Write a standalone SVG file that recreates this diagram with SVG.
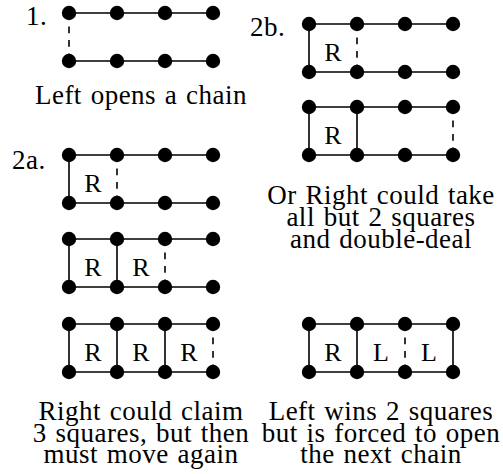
<svg xmlns="http://www.w3.org/2000/svg" xmlns:xlink="http://www.w3.org/1999/xlink" width="503" height="474" viewBox="0 0 503 474">
<style>
.t{font-family:'Liberation Serif','Times New Roman',serif;font-size:27px;fill:#000;letter-spacing:0.5px;word-spacing:1.5px}
.b{font-family:'Liberation Serif','Times New Roman',serif;font-size:26px;fill:#000}
.c{text-anchor:middle}
.e{stroke:#000;stroke-width:1.6;fill:none}
.d{stroke:#000;stroke-width:1.6;fill:none;stroke-dasharray:6.75 6.75}
</style>
<defs><circle id="dot" r="7.2" fill="#000"/></defs>
<rect width="503" height="474" fill="#fff"/>
<g id="connectors">
<path class="e" d="M69 13H213M69 61H213"/>
<path class="d" d="M69 13V61"/>
<path class="e" d="M309 24H453M309 72H453M309 24V72"/>
<path class="d" d="M357 24V72"/>
<path class="e" d="M309 107H453M309 155H453M309 107V155M357 107V155"/>
<path class="d" d="M453 107V155"/>
<path class="e" d="M69 155H213M69 203H213M69 155V203"/>
<path class="d" d="M117 155V203"/>
<path class="e" d="M69 239H213M69 287H213M69 239V287M117 239V287"/>
<path class="d" d="M165 239V287"/>
<path class="e" d="M69 324H213M69 372H213M69 324V372M117 324V372M165 324V372"/>
<path class="d" d="M213 324V372"/>
<path class="e" d="M309 324H453M309 372H453M309 324V372M357 324V372M453 324V372"/>
<path class="d" d="M405 324V372"/>
</g>
<g id="chain1">
<g id="n1-t1"><use xlink:href="#dot" x="69" y="13"/></g>
<g id="n1-t2"><use xlink:href="#dot" x="117" y="13"/></g>
<g id="n1-t3"><use xlink:href="#dot" x="165" y="13"/></g>
<g id="n1-t4"><use xlink:href="#dot" x="213" y="13"/></g>
<g id="n1-b1"><use xlink:href="#dot" x="69" y="61"/></g>
<g id="n1-b2"><use xlink:href="#dot" x="117" y="61"/></g>
<g id="n1-b3"><use xlink:href="#dot" x="165" y="61"/></g>
<g id="n1-b4"><use xlink:href="#dot" x="213" y="61"/></g>
</g>
<g id="chain2b1">
<g id="n2b1-t1"><use xlink:href="#dot" x="309" y="24"/></g>
<g id="n2b1-t2"><use xlink:href="#dot" x="357" y="24"/></g>
<g id="n2b1-t3"><use xlink:href="#dot" x="405" y="24"/></g>
<g id="n2b1-t4"><use xlink:href="#dot" x="453" y="24"/></g>
<g id="n2b1-b1"><use xlink:href="#dot" x="309" y="72"/></g>
<g id="n2b1-b2"><use xlink:href="#dot" x="357" y="72"/></g>
<g id="n2b1-b3"><use xlink:href="#dot" x="405" y="72"/></g>
<g id="n2b1-b4"><use xlink:href="#dot" x="453" y="72"/></g>
</g>
<g id="chain2b2">
<g id="n2b2-t1"><use xlink:href="#dot" x="309" y="107"/></g>
<g id="n2b2-t2"><use xlink:href="#dot" x="357" y="107"/></g>
<g id="n2b2-t3"><use xlink:href="#dot" x="405" y="107"/></g>
<g id="n2b2-t4"><use xlink:href="#dot" x="453" y="107"/></g>
<g id="n2b2-b1"><use xlink:href="#dot" x="309" y="155"/></g>
<g id="n2b2-b2"><use xlink:href="#dot" x="357" y="155"/></g>
<g id="n2b2-b3"><use xlink:href="#dot" x="405" y="155"/></g>
<g id="n2b2-b4"><use xlink:href="#dot" x="453" y="155"/></g>
</g>
<g id="chain2a1">
<g id="n2a1-t1"><use xlink:href="#dot" x="69" y="155"/></g>
<g id="n2a1-t2"><use xlink:href="#dot" x="117" y="155"/></g>
<g id="n2a1-t3"><use xlink:href="#dot" x="165" y="155"/></g>
<g id="n2a1-t4"><use xlink:href="#dot" x="213" y="155"/></g>
<g id="n2a1-b1"><use xlink:href="#dot" x="69" y="203"/></g>
<g id="n2a1-b2"><use xlink:href="#dot" x="117" y="203"/></g>
<g id="n2a1-b3"><use xlink:href="#dot" x="165" y="203"/></g>
<g id="n2a1-b4"><use xlink:href="#dot" x="213" y="203"/></g>
</g>
<g id="chain2a2">
<g id="n2a2-t1"><use xlink:href="#dot" x="69" y="239"/></g>
<g id="n2a2-t2"><use xlink:href="#dot" x="117" y="239"/></g>
<g id="n2a2-t3"><use xlink:href="#dot" x="165" y="239"/></g>
<g id="n2a2-t4"><use xlink:href="#dot" x="213" y="239"/></g>
<g id="n2a2-b1"><use xlink:href="#dot" x="69" y="287"/></g>
<g id="n2a2-b2"><use xlink:href="#dot" x="117" y="287"/></g>
<g id="n2a2-b3"><use xlink:href="#dot" x="165" y="287"/></g>
<g id="n2a2-b4"><use xlink:href="#dot" x="213" y="287"/></g>
</g>
<g id="chain2a3">
<g id="n2a3-t1"><use xlink:href="#dot" x="69" y="324"/></g>
<g id="n2a3-t2"><use xlink:href="#dot" x="117" y="324"/></g>
<g id="n2a3-t3"><use xlink:href="#dot" x="165" y="324"/></g>
<g id="n2a3-t4"><use xlink:href="#dot" x="213" y="324"/></g>
<g id="n2a3-b1"><use xlink:href="#dot" x="69" y="372"/></g>
<g id="n2a3-b2"><use xlink:href="#dot" x="117" y="372"/></g>
<g id="n2a3-b3"><use xlink:href="#dot" x="165" y="372"/></g>
<g id="n2a3-b4"><use xlink:href="#dot" x="213" y="372"/></g>
</g>
<g id="chainfinal">
<g id="nf-t1"><use xlink:href="#dot" x="309" y="324"/></g>
<g id="nf-t2"><use xlink:href="#dot" x="357" y="324"/></g>
<g id="nf-t3"><use xlink:href="#dot" x="405" y="324"/></g>
<g id="nf-t4"><use xlink:href="#dot" x="453" y="324"/></g>
<g id="nf-b1"><use xlink:href="#dot" x="309" y="372"/></g>
<g id="nf-b2"><use xlink:href="#dot" x="357" y="372"/></g>
<g id="nf-b3"><use xlink:href="#dot" x="405" y="372"/></g>
<g id="nf-b4"><use xlink:href="#dot" x="453" y="372"/></g>
</g>
<g id="box-labels" class="b">
<text class="c" x="333" y="61">R</text>
<text class="c" x="333" y="144">R</text>
<text class="c" x="93" y="192">R</text>
<text class="c" x="93" y="276">R</text>
<text class="c" x="141" y="276">R</text>
<text class="c" x="93" y="361">R</text>
<text class="c" x="141" y="361">R</text>
<text class="c" x="189" y="361">R</text>
<text class="c" x="333" y="361">R</text>
<text class="c" x="381" y="361">L</text>
<text class="c" x="429" y="361">L</text>
</g>
<g id="captions" class="t">
<text x="26" y="25">1.</text>
<text class="c" x="141" y="104">Left opens a chain</text>
<text x="250" y="36">2b.</text>
<text class="c" x="381" y="204">Or Right could take</text>
<text class="c" x="381" y="226">all but 2 squares</text>
<text class="c" x="381" y="248">and double-deal</text>
<text x="12" y="169">2a.</text>
<text class="c" x="141" y="420">Right could claim</text>
<text class="c" x="141" y="442">3 squares, but then</text>
<text class="c" x="141" y="463">must move again</text>
<text class="c" x="381" y="420">Left wins 2 squares</text>
<text class="c" x="381" y="442">but is forced to open</text>
<text class="c" x="381" y="463">the next chain</text>
</g>
</svg>
